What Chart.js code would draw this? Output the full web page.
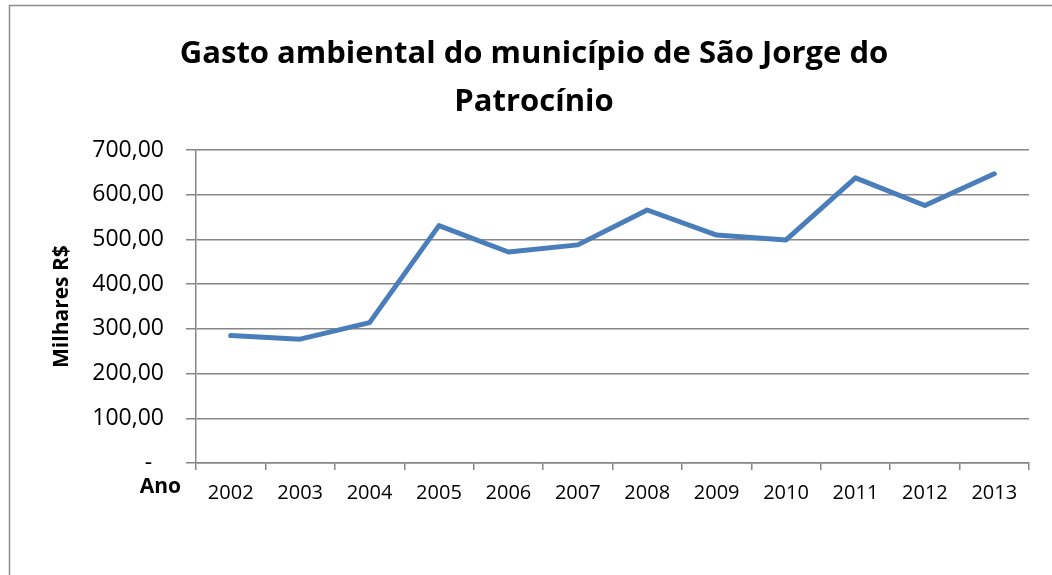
<!DOCTYPE html>
<html>
<head>
<meta charset="utf-8">
<script src="https://cdn.jsdelivr.net/npm/chart.js@4/dist/chart.umd.min.js"></script>
<style>
    html, body { margin: 0; padding: 0; background: #ffffff; overflow: hidden; }
    #wrap { position: relative; width: 1052px; height: 575px; }
</style>
</head>
<body>
<div id="wrap"><canvas id="chart"></canvas></div>
<script>
    // dados
    var anos = ['2002', '2003', '2004', '2005', '2006', '2007', '2008', '2009', '2010', '2011', '2012', '2013'];
    var gasto = [285, 277, 314, 531, 472, 488, 566, 510, 499, 638, 576, 647];
    var yTicks = [0, 100, 200, 300, 400, 500, 600, 700];
    var titulo = ['Gasto ambiental do município de São Jorge do', 'Patrocínio'];

    var FONT = '"Open Sans", Lato, sans-serif';
    var GRID = '#868686';

    // moldura e rótulo "Ano" (desenhados à mão, como no Excel)
    var extras = {
        id: 'extras',
        afterDraw: function (chart) {
            var ctx = chart.ctx;
            ctx.save();
            ctx.strokeStyle = '#8c8c8c';
            ctx.lineWidth = 1.5;
            ctx.beginPath();
            ctx.moveTo(9.5, 575);
            ctx.lineTo(9.5, 5.5);
            ctx.lineTo(1052, 5.5);
            ctx.stroke();

            ctx.fillStyle = '#000';
            ctx.font = 'bold 21px ' + FONT;
            ctx.textAlign = 'right';
            ctx.textBaseline = 'middle';
            ctx.fillText('Ano', 181, 487);
            ctx.restore();
        }
    };

    new Chart(document.getElementById('chart'), {
        type: 'line',
        data: {
            labels: anos,
            datasets: [{
                label: 'Gasto ambiental',
                data: gasto,
                borderColor: '#4a7ebb',
                backgroundColor: '#4a7ebb',
                borderWidth: 5,
                pointRadius: 0,
                tension: 0,
                borderCapStyle: 'round',
                borderJoinStyle: 'round'
            }]
        },
        options: {
            responsive: true,
            maintainAspectRatio: false,
            animation: false,
            layout: { padding: { left: 39, right: 23, top: 0, bottom: 0 } },
            plugins: {
                legend: { display: false },
                tooltip: { enabled: false },
                title: {
                    display: true,
                    text: titulo,
                    color: '#000',
                    font: { family: FONT, size: 31, weight: 'bold', lineHeight: 1.55 },
                    padding: { top: 30, bottom: 24 }
                }
            },
            scales: {
                x: {
                    type: 'category',
                    offset: true,
                    grid: {
                        offset: true,
                        drawOnChartArea: false,
                        tickLength: 7,
                        color: GRID,
                        lineWidth: 1.5
                    },
                    border: { color: GRID, width: 1.5 },
                    ticks: {
                        color: '#000',
                        padding: 11,
                        maxRotation: 0,
                        font: { family: FONT, size: 20 }
                    },
                    afterFit: function (scale) { scale.height = 112; }
                },
                y: {
                    min: 0,
                    max: 700,
                    afterBuildTicks: function (scale) {
                        scale.ticks = yTicks.map(function (v) { return { value: v }; });
                    },
                    grid: {
                        color: GRID,
                        lineWidth: 1.5,
                        tickLength: 10
                    },
                    border: { color: GRID, width: 1.5 },
                    ticks: {
                        color: '#000',
                        padding: 22,
                        font: { family: FONT, size: 23 },
                        callback: function (value) {
                            if (value === 0) return '-  ';
                            return value.toFixed(2).replace('.', ',');
                        }
                    },
                    title: {
                        display: true,
                        text: 'Milhares R$',
                        color: '#000',
                        font: { family: FONT, size: 21, weight: 'bold' },
                        padding: { top: 10, bottom: 0 }
                    },
                    afterFit: function (scale) { scale.width = 157; }
                }
            }
        },
        plugins: [extras]
    });
</script>
</body>
</html>
